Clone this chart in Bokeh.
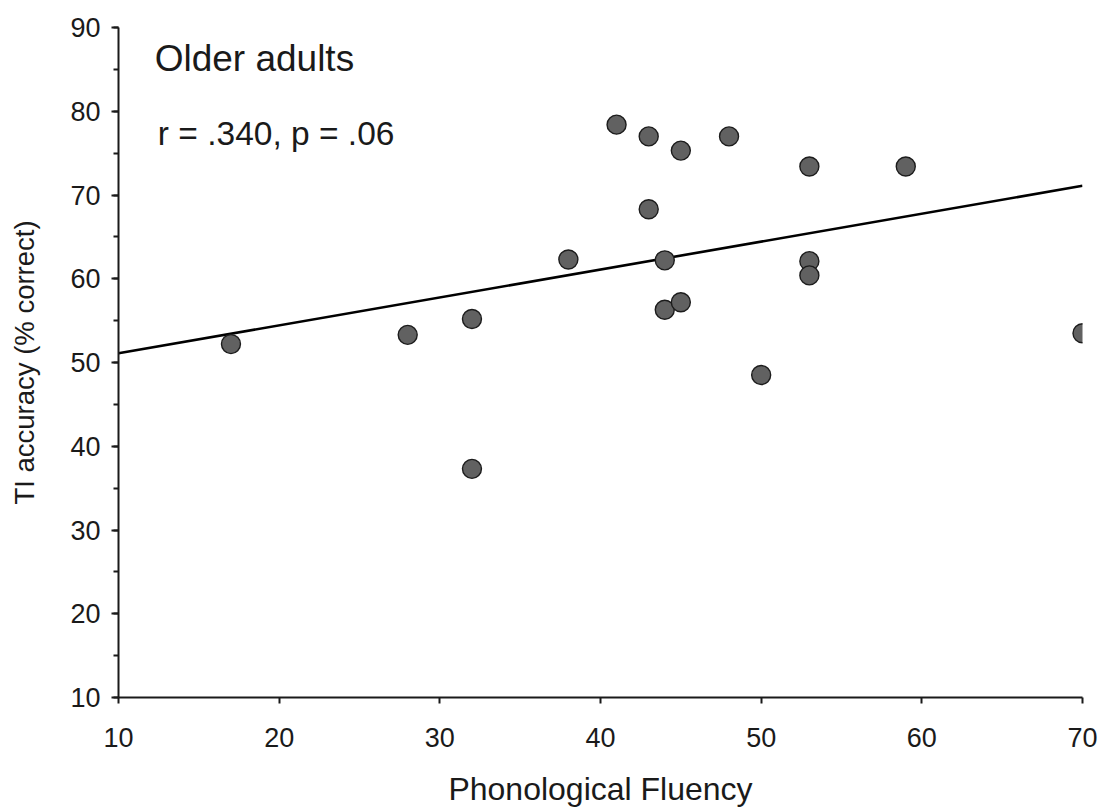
from bokeh.plotting import figure
from bokeh.models import Range1d, SingleIntervalTicker, ColumnDataSource
from bokeh.core.properties import value
from bokeh.embed import file_html
from bokeh.resources import INLINE

# Phonological fluency score and transitive-inference accuracy per participant
fluency = [17, 28, 32, 32, 38, 41, 43, 43, 44, 44, 45, 45, 48, 50, 53, 53, 53, 59, 70]
accuracy = [52.2, 53.3, 55.2, 37.3, 62.3, 78.4, 77.0, 68.3, 62.2, 56.3, 57.2,
            75.3, 77.0, 48.5, 73.4, 62.1, 60.4, 73.4, 53.5]

# regression line end points (published fit)
fit_x = [10, 70]
fit_y = [51.1, 71.1]

group_label = "Older adults"
stats_label = "r = .340, p = .06"
x_title = "Phonological Fluency"
y_title = "TI accuracy (% correct)"
x_limits = (10, 70)
y_limits = (10, 90)

FONT = "Liberation Sans"
INK = "#1a1a1a"

p = figure(width=1103, height=809, output_backend="svg", toolbar_location=None,
           x_range=Range1d(*x_limits), y_range=Range1d(*y_limits),
           min_border_left=118, min_border_right=21,
           min_border_top=27, min_border_bottom=112)
p.outline_line_color = None
p.xgrid.visible = False
p.ygrid.visible = False
p.background_fill_color = "white"
p.border_fill_color = "white"

p.line(fit_x, fit_y, line_color="black", line_width=2.6)

src = ColumnDataSource(dict(x=fluency, y=accuracy))
p.scatter("x", "y", source=src, size=19, fill_color="#616161",
          line_color="#1c1c1c", line_width=1.4)

# annotations in the upper-left corner
p.text(x=[12.25], y=[86.3], text=[group_label], text_font=value(FONT),
       text_font_size="37px", text_color=INK, text_baseline="alphabetic",
       text_align="left")
p.text(x=[12.45], y=[77.3], text=[stats_label], text_font=value(FONT),
       text_font_size="33.5px", text_color=INK, text_baseline="alphabetic",
       text_align="left")

for ax in (p.xaxis[0], p.yaxis[0]):
    ax.axis_line_color = INK
    ax.axis_line_width = 2
    ax.major_tick_line_color = INK
    ax.major_tick_line_width = 2
    ax.minor_tick_line_color = INK
    ax.minor_tick_line_width = 2
    ax.major_tick_in = 0
    ax.minor_tick_in = 0
    ax.major_label_text_font = FONT
    ax.major_label_text_font_size = "27px"
    ax.major_label_text_color = INK
    ax.axis_label_text_font = FONT
    ax.axis_label_text_font_style = "normal"
    ax.axis_label_text_color = INK

p.xaxis.ticker = SingleIntervalTicker(interval=10, num_minor_ticks=0)
p.xaxis.major_tick_out = 6
p.xaxis.minor_tick_out = 0
p.xaxis.major_label_standoff = 24
p.xaxis.axis_label = x_title
p.xaxis.axis_label_text_font_size = "32px"
p.xaxis.axis_label_standoff = 21

p.yaxis.ticker = SingleIntervalTicker(interval=10, num_minor_ticks=2)
p.yaxis.major_tick_out = 7
p.yaxis.minor_tick_out = 5
p.yaxis.major_label_standoff = 11
p.yaxis.axis_label = y_title
p.yaxis.axis_label_text_font_size = "27.5px"
p.yaxis.axis_label_standoff = 27

open("out.html", "w").write(file_html(p, INLINE))
